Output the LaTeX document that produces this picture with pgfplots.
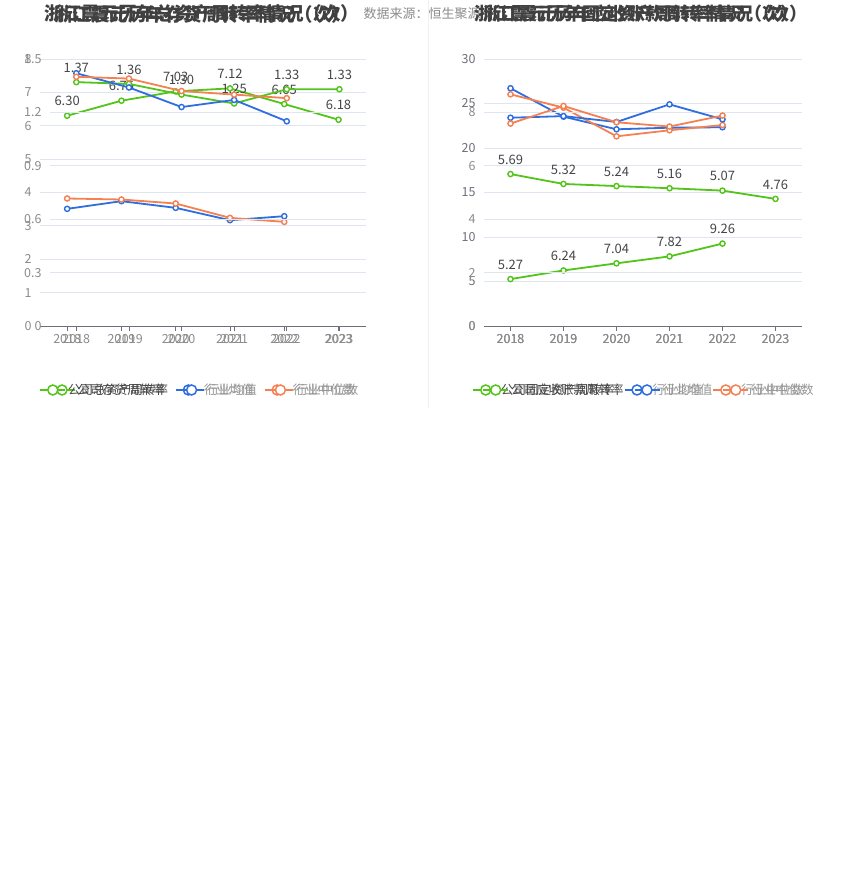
\documentclass[border=0pt]{standalone}
\usepackage{fontspec}
\setmainfont{Noto Sans CJK SC}
\usepackage{pgfplots}
\pgfplotsset{compat=1.18}

\definecolor{cgreen}{RGB}{82,196,26}
\definecolor{cblue}{RGB}{47,110,222}
\definecolor{corange}{RGB}{245,128,82}
\definecolor{cgrid}{RGB}{224,230,241}
\definecolor{ctick}{RGB}{140,140,140}
\definecolor{clabel}{RGB}{70,70,70}
\definecolor{caxis}{RGB}{110,112,121}
\definecolor{ctitle}{RGB}{64,64,64}
\definecolor{clegend}{RGB}{150,150,150}

\pgfplotsset{
  base/.style={
    scale only axis, anchor=south west, height=267pt,
    xmin=-0.5, xmax=5.5, ymin=0,
    xtick={0,...,5}, xticklabels={2018,2019,2020,2021,2022,2023},
    axis x line*=bottom, axis y line*=left,
    y axis line style={draw=none},
    x axis line style={draw=caxis, line width=0.8pt},
    xtick style={draw=caxis, line width=0.8pt},
    ytick style={draw=none},
    major tick length=5pt, tick align=outside,
    ymajorgrids, grid style={cgrid, line width=0.8pt},
    ticklabel style={font=\fontsize{12.5}{14}\selectfont, text=ctick},
    /pgf/number format/assume math mode=true,
    clip=false,
    legend style={draw=none, fill=none, legend columns=3,
      font=\fontsize{12.5}{14}\selectfont,
      at={(0.5,0)}, anchor=center, yshift=-64pt,
      /tikz/every even column/.append style={column sep=8pt}},
    legend image code/.code={
      \draw[##1, mark=none] (0pt,0pt) -- (25pt,0pt);
      \draw[##1, mark=none, fill=white, line width=1.5pt] (12.5pt,0pt) circle (5pt);
    },
  },
  ser/.style={color=#1, line width=1.8pt, mark=*, mark size=2.6pt,
    mark options={fill=white, line width=1.4pt}},
  lab/.style={nodes near coords, point meta=explicit symbolic,
    every node near coord/.append style={font=\fontsize{13}{15}\selectfont,
      text=clabel, anchor=center, yshift=14.5pt}},
}

\begin{document}
\begin{tikzpicture}
\path[use as bounding box, fill=white] (0,0) rectangle (850pt,890pt);
\draw[color=cgrid!60, line width=0.8pt] (428pt,890pt) -- (428pt,482pt);

% left: inventory turnover (0-8)
\begin{axis}[base, at={(40pt,564pt)}, width=325.7pt, ymax=8, ytick={0,...,8}]
\addplot[ser=cgreen, lab] coordinates {(0,6.30)[6.30] (1,6.75)[6.75] (2,7.03)[7.03] (3,7.12)[7.12] (4,6.65)[6.65] (5,6.18)[6.18]};
\addlegendentry{\textcolor{clabel}{公司存货周转率}}
\addplot[ser=cblue] coordinates {(0,3.51) (1,3.74) (2,3.54) (3,3.17) (4,3.29)};
\addlegendentry{\textcolor{clegend}{行业均值}}
\addplot[ser=corange] coordinates {(0,3.82) (1,3.79) (2,3.67) (3,3.24) (4,3.12)};
\addlegendentry{\textcolor{clegend}{行业中位数}}
\end{axis}

% left: total asset turnover (0-1.5)
\begin{axis}[base, at={(50pt,564pt)}, width=315.7pt, ymax=1.5, ytick={0,0.3,0.6,0.9,1.2,1.5},
  legend style={xshift=-8pt}]
\addplot[ser=cgreen, lab] coordinates {(0,1.37)[1.37] (1,1.36)[1.36] (2,1.30)[1.30] (3,1.25)[1.25] (4,1.33)[1.33] (5,1.33)[1.33]};
\addlegendentry{\textcolor{clabel}{公司总资产周转率}}
\addplot[ser=cblue] coordinates {(0,1.42) (1,1.34) (2,1.23) (3,1.27) (4,1.15)};
\addlegendentry{\textcolor{clegend}{行业均值}}
\addplot[ser=corange] coordinates {(0,1.40) (1,1.39) (2,1.32) (3,1.30) (4,1.28)};
\addlegendentry{\textcolor{clegend}{行业中位数}}
\end{axis}

% right: fixed asset turnover (0-30)
\begin{axis}[base, at={(484pt,564pt)}, width=318pt, ymax=30, ytick={0,5,...,30},
  ticklabel style={text=caxis}, legend style={xshift=-4pt}]
\addplot[ser=cgreen, lab] coordinates {(0,5.27)[5.27] (1,6.24)[6.24] (2,7.04)[7.04] (3,7.82)[7.82] (4,9.26)[9.26]};
\addlegendentry{\textcolor{clabel}{公司固定资产周转率}}
\addplot[ser=cblue] coordinates {(0,26.71) (1,23.52) (2,22.10) (3,22.28) (4,22.33)};
\addlegendentry{\textcolor{clegend}{行业均值}}
\addplot[ser=corange] coordinates {(0,26.03) (1,24.53) (2,21.31) (3,21.99) (4,22.58)};
\addlegendentry{\textcolor{clegend}{行业中位数}}
\end{axis}

% right: receivables turnover (0-10)
\begin{axis}[base, at={(484pt,564pt)}, width=318pt, ymax=10, ytick={0,2,4,6,8},
  legend style={xshift=6pt}]
\addplot[ser=cgreen, lab] coordinates {(0,5.69)[5.69] (1,5.32)[5.32] (2,5.24)[5.24] (3,5.16)[5.16] (4,5.07)[5.07] (5,4.76)[4.76]};
\addlegendentry{\textcolor{clabel}{公司应收账款周转率}}
\addplot[ser=cblue] coordinates {(0,7.80) (1,7.86) (2,7.64) (3,8.30) (4,7.74)};
\addlegendentry{\textcolor{clegend}{行业均值}}
\addplot[ser=corange] coordinates {(0,7.58) (1,8.24) (2,7.63) (3,7.47) (4,7.88)};
\addlegendentry{\textcolor{clegend}{行业中位数}}
\end{axis}

% titles
\node[font=\bfseries\fontsize{18.5}{20}\selectfont, text=ctitle] at (202pt,876pt) {浙江震元历年存货周转率情况（次）};
\node[font=\bfseries\fontsize{18.5}{20}\selectfont, text=ctitle] at (202pt,876pt) {浙江震元历年总资产周转率情况（次）};
\node[anchor=west, font=\fontsize{13}{15}\selectfont, text=ctick] at (360pt,876pt) {数据来源：恒生聚源};
\node[font=\bfseries\fontsize{18}{20}\selectfont, text=ctitle] at (636pt,876pt) {浙江震元历年固定资产周转率情况（次）};
\node[font=\bfseries\fontsize{18}{20}\selectfont, text=ctitle] at (645pt,876pt) {浙江震元历年应收账款周转率情况（次）};
\end{tikzpicture}
\end{document}
